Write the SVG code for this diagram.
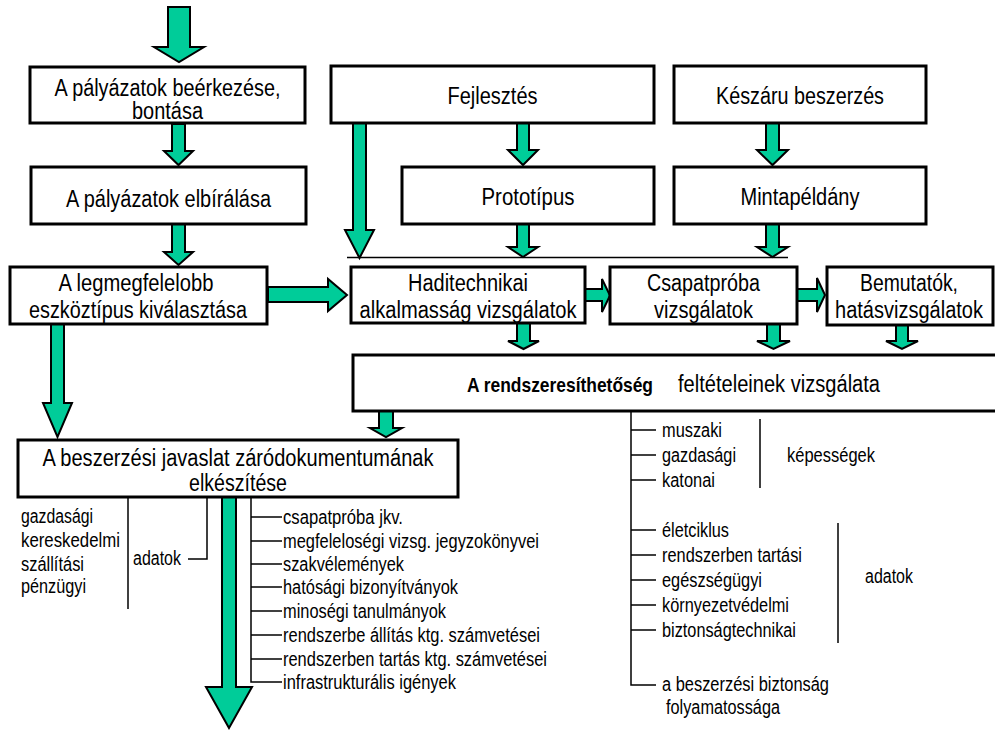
<svg xmlns="http://www.w3.org/2000/svg" width="995" height="730" viewBox="0 0 995 730">
  <style>
    .box { fill: #ffffff; stroke: #000000; stroke-width: 3; }
    .arr { fill: #00CC99; stroke: #000000; stroke-width: 2; stroke-linejoin: miter; }
    .ln { fill: none; stroke: #000000; stroke-width: 1.5; }
    text { font-family: "Liberation Sans Narrow", "Liberation Sans", Arial, sans-serif; fill: #000000; }
    .t { font-size: 23px; text-anchor: middle; }
    .s { font-size: 23px; }
    .l { font-size: 20px; }
    .b { font-size: 21px; font-weight: bold; }
  </style>
  <rect x="0" y="0" width="995" height="730" fill="#ffffff"/>

  <!-- block arrows and thin connector lines -->
  <g id="connectors">
    <polygon class="arr" points="168,7 190,7 190,47 204,47 179,62 154,47 168,47"/>
    <polygon class="arr" points="172,124 185,124 185,151 193,151 178.5,165 164,151 172,151"/>
    <polygon class="arr" points="172,224 185,224 185,252 193,252 178.5,265 164,252 172,252"/>
    <polygon class="arr" points="51,324 64,324 64,403 72,403 57.5,437 43,403 51,403"/>
    <polygon class="arr" points="268,287 328,287 328,279 347,295 328,311 328,302 268,302"/>
    <polygon class="arr" points="353,123 366,123 366,230 374,230 359.5,258 345,230 353,230"/>
    <polygon class="arr" points="517,123 529,123 529,150 538,150 523,165 508,150 517,150"/>
    <polygon class="arr" points="766,123 779,123 779,150 788,150 772.5,165 757,150 766,150"/>
    <polygon class="arr" points="517,224 529,224 529,247 538,247 523,257 508,247 517,247"/>
    <polygon class="arr" points="766,224 779,224 779,247 788,247 772.5,257 757,247 766,247"/>
    <line class="ln" x1="347" y1="257.5" x2="788" y2="257.5"/>
    <polygon class="arr" points="585,289 602,289 602,279 610,295.5 602,312 602,301 585,301"/>
    <polygon class="arr" points="797,289 817,289 817,278 825,295 817,312 817,301 797,301"/>
    <polygon class="arr" points="517,323 530,323 530,341 539,341 523.5,349 508,341 517,341"/>
    <polygon class="arr" points="767,324 780,324 780,341 790,341 773.5,349 757,341 767,341"/>
    <polygon class="arr" points="896,325 908,325 908,341 918,341 902,349 886,341 896,341"/>
    <polygon class="arr" points="379,411 393,411 393,428 402,428 386,437 370,428 379,428"/>
    <polygon class="arr" points="222,497 236,497 236,687 252,687 229,728 206,687 222,687"/>

    <!-- left data list brackets -->
    <line class="ln" x1="128" y1="497" x2="128" y2="609"/>
    <polyline class="ln" points="188,559 207,559 207,497"/>

    <!-- document list ticks -->
    <polyline class="ln" points="251,497 251,682 282,682"/>
    <line class="ln" x1="251" y1="517" x2="282" y2="517"/>
    <line class="ln" x1="251" y1="541" x2="282" y2="541"/>
    <line class="ln" x1="251" y1="564" x2="282" y2="564"/>
    <line class="ln" x1="251" y1="587" x2="282" y2="587"/>
    <line class="ln" x1="251" y1="611" x2="282" y2="611"/>
    <line class="ln" x1="251" y1="635" x2="282" y2="635"/>
    <line class="ln" x1="251" y1="659" x2="282" y2="659"/>

    <!-- condition list ticks and brackets -->
    <polyline class="ln" points="631,411 631,685 656,685"/>
    <line class="ln" x1="631" y1="430" x2="656" y2="430"/>
    <line class="ln" x1="631" y1="455" x2="656" y2="455"/>
    <line class="ln" x1="631" y1="480" x2="656" y2="480"/>
    <line class="ln" x1="631" y1="530" x2="656" y2="530"/>
    <line class="ln" x1="631" y1="555" x2="656" y2="555"/>
    <line class="ln" x1="631" y1="580" x2="656" y2="580"/>
    <line class="ln" x1="631" y1="605" x2="656" y2="605"/>
    <line class="ln" x1="631" y1="630" x2="656" y2="630"/>
    <line class="ln" x1="760" y1="419" x2="760" y2="488"/>
    <line class="ln" x1="838" y1="523" x2="838" y2="643"/>
  </g>

  <g id="beerkezes">
    <rect class="box" x="30" y="67" width="275" height="56"/>
    <text class="t" x="167.5" y="96" textLength="226" lengthAdjust="spacingAndGlyphs">A pályázatok beérkezése,</text>
    <text class="t" x="167.5" y="119" textLength="71" lengthAdjust="spacingAndGlyphs">bontása</text>
  </g>
  <g id="elbiralas">
    <rect class="box" x="31" y="167" width="275" height="57"/>
    <text class="t" x="168.5" y="207" textLength="205" lengthAdjust="spacingAndGlyphs">A pályázatok elbírálása</text>
  </g>
  <g id="kivalasztas">
    <rect class="box" x="10" y="267" width="257" height="57"/>
    <text class="t" x="136" y="291" textLength="155" lengthAdjust="spacingAndGlyphs">A legmegfelelobb</text>
    <text class="t" x="138" y="318" textLength="218" lengthAdjust="spacingAndGlyphs">eszköztípus kiválasztása</text>
  </g>
  <g id="fejlesztes">
    <rect class="box" x="331" y="66" width="323" height="57"/>
    <text class="t" x="492.5" y="104" textLength="90" lengthAdjust="spacingAndGlyphs">Fejlesztés</text>
  </g>
  <g id="keszaru">
    <rect class="box" x="674" y="66" width="252" height="57"/>
    <text class="t" x="800" y="104" textLength="168" lengthAdjust="spacingAndGlyphs">Készáru beszerzés</text>
  </g>
  <g id="prototipus">
    <rect class="box" x="402" y="167" width="252" height="57"/>
    <text class="t" x="528" y="205" textLength="93" lengthAdjust="spacingAndGlyphs">Prototípus</text>
  </g>
  <g id="mintapeldany">
    <rect class="box" x="674" y="167" width="252" height="57"/>
    <text class="t" x="800" y="205" textLength="119" lengthAdjust="spacingAndGlyphs">Mintapéldány</text>
  </g>
  <g id="haditechnikai">
    <rect class="box" x="351" y="267" width="234" height="56"/>
    <text class="t" x="468" y="291" textLength="120" lengthAdjust="spacingAndGlyphs">Haditechnikai</text>
    <text class="t" x="468" y="318" textLength="217" lengthAdjust="spacingAndGlyphs">alkalmasság vizsgálatok</text>
  </g>
  <g id="csapatproba">
    <rect class="box" x="610" y="267" width="187" height="57"/>
    <text class="t" x="703.5" y="291" textLength="113" lengthAdjust="spacingAndGlyphs">Csapatpróba</text>
    <text class="t" x="703.5" y="318" textLength="99" lengthAdjust="spacingAndGlyphs">vizsgálatok</text>
  </g>
  <g id="bemutatok">
    <rect class="box" x="827" y="267" width="166" height="58"/>
    <text class="t" x="909" y="291" textLength="98" lengthAdjust="spacingAndGlyphs">Bemutatók,</text>
    <text class="t" x="909" y="318" textLength="148" lengthAdjust="spacingAndGlyphs">hatásvizsgálatok</text>
  </g>
  <g id="rendszeresithetoseg">
    <rect class="box" x="353" y="355" width="660" height="56"/>
    <text class="b" x="467" y="392" textLength="186" lengthAdjust="spacingAndGlyphs">A rendszeresíthetőség</text>
    <text class="s" x="678" y="392" textLength="202" lengthAdjust="spacingAndGlyphs">feltételeinek vizsgálata</text>
  </g>
  <g id="zarodokumentum">
    <rect class="box" x="18" y="440" width="440" height="57"/>
    <text class="t" x="238" y="466" textLength="391" lengthAdjust="spacingAndGlyphs">A beszerzési javaslat záródokumentumának</text>
    <text class="t" x="238" y="491" textLength="98" lengthAdjust="spacingAndGlyphs">elkészítése</text>
  </g>

  <g id="adatok-bal">
    <text class="l" x="21" y="523" textLength="72" lengthAdjust="spacingAndGlyphs">gazdasági</text>
    <text class="l" x="21" y="547" textLength="99" lengthAdjust="spacingAndGlyphs">kereskedelmi</text>
    <text class="l" x="21" y="571" textLength="63" lengthAdjust="spacingAndGlyphs">szállítási</text>
    <text class="l" x="21" y="593" textLength="65" lengthAdjust="spacingAndGlyphs">pénzügyi</text>
    <text class="l" x="133" y="565" textLength="48" lengthAdjust="spacingAndGlyphs">adatok</text>
  </g>
  <g id="dokumentumok">
    <text class="l" x="283" y="524" textLength="120" lengthAdjust="spacingAndGlyphs">csapatpróba jkv.</text>
    <text class="l" x="283" y="548" textLength="256" lengthAdjust="spacingAndGlyphs">megfeleloségi vizsg. jegyzokönyvei</text>
    <text class="l" x="283" y="571" textLength="121" lengthAdjust="spacingAndGlyphs">szakvélemények</text>
    <text class="l" x="283" y="594" textLength="175" lengthAdjust="spacingAndGlyphs">hatósági bizonyítványok</text>
    <text class="l" x="283" y="618" textLength="163" lengthAdjust="spacingAndGlyphs">minoségi tanulmányok</text>
    <text class="l" x="283" y="642" textLength="257" lengthAdjust="spacingAndGlyphs">rendszerbe állítás ktg. számvetései</text>
    <text class="l" x="283" y="666" textLength="264" lengthAdjust="spacingAndGlyphs">rendszerben tartás ktg. számvetései</text>
    <text class="l" x="283" y="689" textLength="173" lengthAdjust="spacingAndGlyphs">infrastrukturális igények</text>
  </g>
  <g id="feltetelek">
    <text class="l" x="662" y="437" textLength="60" lengthAdjust="spacingAndGlyphs">muszaki</text>
    <text class="l" x="662" y="462" textLength="74" lengthAdjust="spacingAndGlyphs">gazdasági</text>
    <text class="l" x="662" y="487" textLength="53" lengthAdjust="spacingAndGlyphs">katonai</text>
    <text class="l" x="787" y="462" textLength="88" lengthAdjust="spacingAndGlyphs">képességek</text>
    <text class="l" x="662" y="537" textLength="67" lengthAdjust="spacingAndGlyphs">életciklus</text>
    <text class="l" x="662" y="562" textLength="140" lengthAdjust="spacingAndGlyphs">rendszerben tartási</text>
    <text class="l" x="662" y="587" textLength="100" lengthAdjust="spacingAndGlyphs">egészségügyi</text>
    <text class="l" x="662" y="612" textLength="127" lengthAdjust="spacingAndGlyphs">környezetvédelmi</text>
    <text class="l" x="662" y="637" textLength="134" lengthAdjust="spacingAndGlyphs">biztonságtechnikai</text>
    <text class="l" x="865" y="583" textLength="48" lengthAdjust="spacingAndGlyphs">adatok</text>
    <text class="l" x="662" y="691" textLength="167" lengthAdjust="spacingAndGlyphs">a beszerzési biztonság</text>
    <text class="l" x="666" y="714" textLength="114" lengthAdjust="spacingAndGlyphs">folyamatossága</text>
  </g>
</svg>
